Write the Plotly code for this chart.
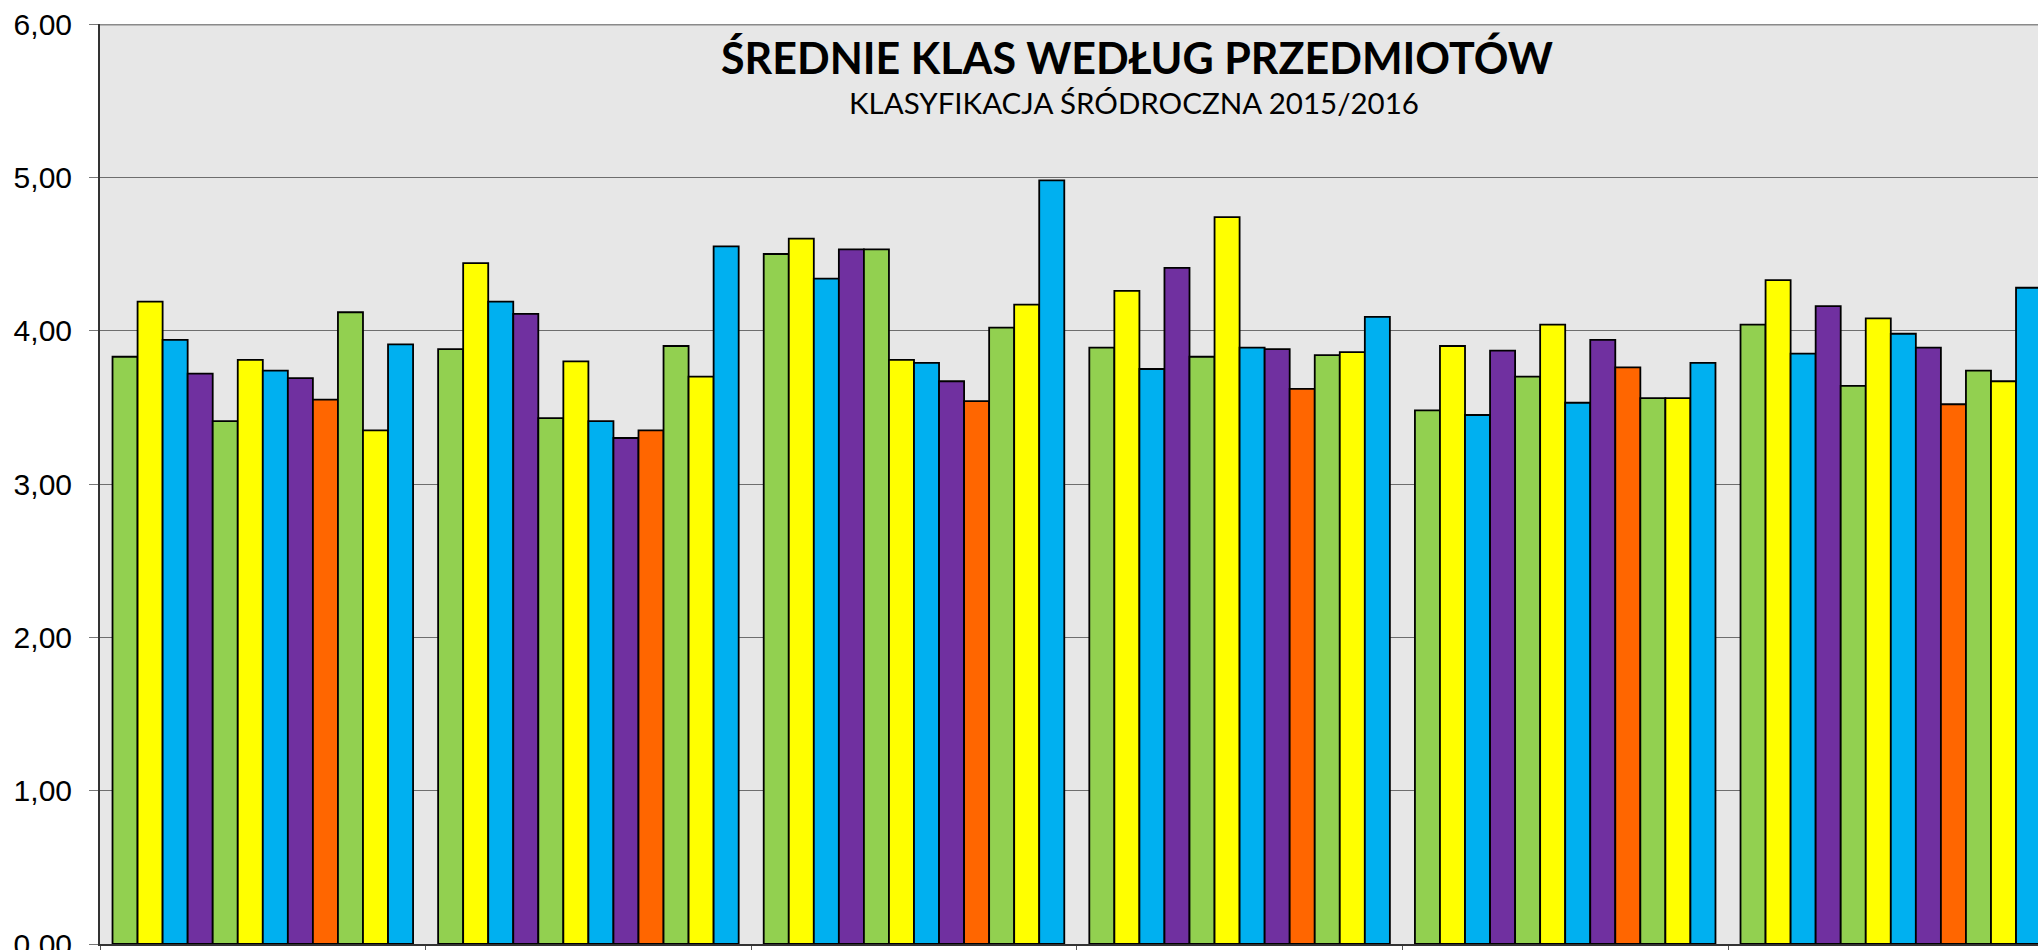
import plotly.graph_objects as go

# Groups (x-axis categories; their labels lie outside the visible crop)
groups = ["1", "2", "3", "4", "5", "6"]

# One series per bar position within a group (12 per group)
series_names = ["s1", "s2", "s3", "s4", "s5", "s6", "s7", "s8", "s9", "s10", "s11", "s12"]
series_colors = ["#92D050", "#FFFF00", "#00B0F0", "#7030A0",
                 "#92D050", "#FFFF00", "#00B0F0", "#7030A0",
                 "#FF6600", "#92D050", "#FFFF00", "#00B0F0"]

s1 = [3.83, 3.88, 4.50, 3.89, 3.48, 4.04]
s2 = [4.19, 4.44, 4.60, 4.26, 3.90, 4.33]
s3 = [3.94, 4.19, 4.34, 3.75, 3.45, 3.85]
s4 = [3.72, 4.11, 4.53, 4.41, 3.87, 4.16]
s5 = [3.41, 3.43, 4.53, 3.83, 3.70, 3.64]
s6 = [3.81, 3.80, 3.81, 4.74, 4.04, 4.08]
s7 = [3.74, 3.41, 3.79, 3.89, 3.53, 3.98]
s8 = [3.69, 3.30, 3.67, 3.88, 3.94, 3.89]
s9 = [3.55, 3.35, 3.54, 3.62, 3.76, 3.52]
s10 = [4.12, 3.90, 4.02, 3.84, 3.56, 3.74]
s11 = [3.35, 3.70, 4.17, 3.86, 3.56, 3.67]
s12 = [3.91, 4.55, 4.98, 4.09, 3.79, 4.28]
series_values = [s1, s2, s3, s4, s5, s6, s7, s8, s9, s10, s11, s12]

y_ticks = [0, 1, 2, 3, 4, 5, 6]

title_text = "ŚREDNIE KLAS WEDŁUG PRZEDMIOTÓW"
subtitle_text = "KLASYFIKACJA ŚRÓDROCZNA 2015/2016"

fig = go.Figure()
for name, color, vals in zip(series_names, series_colors, series_values):
    fig.add_trace(go.Bar(
        x=groups, y=vals, name=name,
        marker=dict(color=color, line=dict(color="#000000", width=1.8)),
        hoverinfo="x+y",
    ))

W, H = 2038, 950
ml, mr, mt, mb = 100, 0, 24, 6

fig.update_layout(
    width=W, height=H,
    margin=dict(l=ml, r=mr, t=mt, b=mb, pad=0, autoexpand=False),
    barmode="group",
    bargap=1/13,
    bargroupgap=0,
    showlegend=False,
    paper_bgcolor="#ffffff",
    plot_bgcolor="#e7e7e7",
    separators=",.",
    font=dict(family="Liberation Sans, Arial, sans-serif", color="#000000"),
    xaxis=dict(
        type="category",
        range=[-0.5, -0.5 + (W - ml) / 325.6],
        automargin=False,
        showgrid=False,
        showticklabels=False,
        ticks="outside", ticklen=12, tickcolor="#555555", tickwidth=1,
        tickson="boundaries",
        showline=True, linecolor="#333333", linewidth=2,
        zeroline=False,
    ),
    yaxis=dict(
        range=[0, 6],
        automargin=False,
        tickvals=y_ticks,
        tickformat=".2f",
        showgrid=True, gridcolor="#6e6e6e", gridwidth=1,
        ticks="outside", ticklen=9, tickcolor="#777777", tickwidth=1,
        showline=True, linecolor="#333333", linewidth=2,
        zeroline=False,
        tickfont=dict(family="Liberation Sans, Arial, sans-serif", size=30, color="#000000"),
        ticklabelstandoff=11,
        ticklabeloverflow="allow",
    ),
    shapes=[dict(type="line", xref="paper", yref="y", x0=0, x1=1, y0=6, y1=6,
                 line=dict(color="#8a8a8a", width=3), layer="above")],
    annotations=[
        dict(text="<b>" + title_text + "</b>", xref="paper", yref="paper",
             x=0.535, y=0.9636, xanchor="center", yanchor="middle", showarrow=False,
             font=dict(family="Lato, Noto Sans, sans-serif", size=43, color="#000000")),
        dict(text=subtitle_text, xref="paper", yref="paper",
             x=0.5335, y=0.915, xanchor="center", yanchor="middle", showarrow=False,
             font=dict(family="Lato, Noto Sans, sans-serif", size=29.5, color="#000000")),
    ],
)

fig.write_html(
    "out.html",
    config={"displayModeBar": False},
    post_script="document.body.style.margin='0';document.body.style.overflow='hidden';",
)
